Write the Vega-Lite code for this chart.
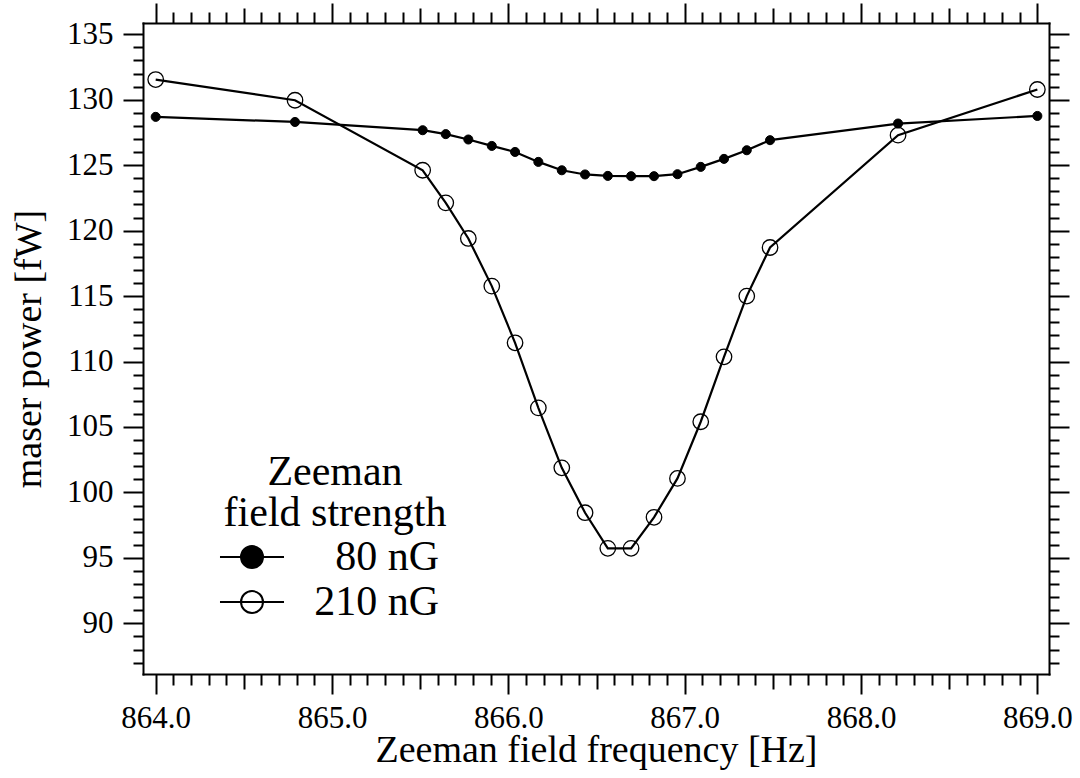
{
  "$schema": "https://vega.github.io/schema/vega-lite/v6.json",
  "width": 906,
  "height": 651,
  "autosize": {"type": "none"},
  "padding": {"left": 143, "top": 23, "right": 31, "bottom": 104},
  "background": "white",
  "config": {
    "view": {"stroke": null},
    "font": "Liberation Serif",
    "axis": {
      "grid": false,
      "domainColor": "black",
      "domainWidth": 2,
      "domainCap": "square",
      "tickColor": "black",
      "tickWidth": 2,
      "labelColor": "black",
      "titleColor": "black",
      "labelFont": "Liberation Serif",
      "titleFont": "Liberation Serif",
      "titleFontWeight": "normal",
      "labelFlush": false,
      "labelOverlap": false
    }
  },
  "data": {
    "values": [
      {"series": "80 nG", "freq": 864.0, "power": 128.69},
      {"series": "80 nG", "freq": 864.79, "power": 128.3},
      {"series": "80 nG", "freq": 865.514, "power": 127.67},
      {"series": "80 nG", "freq": 865.645, "power": 127.37},
      {"series": "80 nG", "freq": 865.773, "power": 126.96},
      {"series": "80 nG", "freq": 865.906, "power": 126.47},
      {"series": "80 nG", "freq": 866.038, "power": 126.01},
      {"series": "80 nG", "freq": 866.17, "power": 125.25},
      {"series": "80 nG", "freq": 866.303, "power": 124.61},
      {"series": "80 nG", "freq": 866.435, "power": 124.29},
      {"series": "80 nG", "freq": 866.564, "power": 124.18},
      {"series": "80 nG", "freq": 866.696, "power": 124.16},
      {"series": "80 nG", "freq": 866.826, "power": 124.16},
      {"series": "80 nG", "freq": 866.959, "power": 124.31},
      {"series": "80 nG", "freq": 867.091, "power": 124.87},
      {"series": "80 nG", "freq": 867.223, "power": 125.48},
      {"series": "80 nG", "freq": 867.352, "power": 126.14},
      {"series": "80 nG", "freq": 867.484, "power": 126.91},
      {"series": "80 nG", "freq": 868.21, "power": 128.18},
      {"series": "80 nG", "freq": 869.0, "power": 128.76},
      {"series": "210 nG", "freq": 864.0, "power": 131.54},
      {"series": "210 nG", "freq": 864.79, "power": 129.96},
      {"series": "210 nG", "freq": 865.514, "power": 124.61},
      {"series": "210 nG", "freq": 865.645, "power": 122.12},
      {"series": "210 nG", "freq": 865.773, "power": 119.4},
      {"series": "210 nG", "freq": 865.906, "power": 115.76},
      {"series": "210 nG", "freq": 866.038, "power": 111.43},
      {"series": "210 nG", "freq": 866.17, "power": 106.46},
      {"series": "210 nG", "freq": 866.303, "power": 101.88},
      {"series": "210 nG", "freq": 866.435, "power": 98.45},
      {"series": "210 nG", "freq": 866.564, "power": 95.73},
      {"series": "210 nG", "freq": 866.696, "power": 95.73},
      {"series": "210 nG", "freq": 866.826, "power": 98.1},
      {"series": "210 nG", "freq": 866.959, "power": 101.07},
      {"series": "210 nG", "freq": 867.091, "power": 105.4},
      {"series": "210 nG", "freq": 867.223, "power": 110.36},
      {"series": "210 nG", "freq": 867.352, "power": 115.0},
      {"series": "210 nG", "freq": 867.484, "power": 118.71},
      {"series": "210 nG", "freq": 868.21, "power": 127.29},
      {"series": "210 nG", "freq": 869.0, "power": 130.78}
    ]
  },
  "layer": [
    {
      "mark": {"type": "line", "color": "black", "strokeWidth": 2.2},
      "encoding": {
        "x": {
          "field": "freq", "type": "quantitative",
          "scale": {"domain": [863.928, 869.066], "nice": false, "zero": false},
          "axis": {
            "orient": "bottom",
            "values": [864, 865, 866, 867, 868, 869],
            "format": ".1f",
            "tickSize": 20,
            "labelFont": "Liberation Serif",
            "labelFontSize": 31,
            "labelPadding": 9,
            "title": "Zeeman field frequency [Hz]",
            "titleFont": "Liberation Serif",
            "titleFontSize": 38,
            "titlePadding": -2
          }
        },
        "y": {
          "field": "power", "type": "quantitative",
          "scale": {"domain": [86.13, 135.86], "nice": false, "zero": false},
          "axis": {
            "orient": "left",
            "values": [90, 95, 100, 105, 110, 115, 120, 125, 130, 135],
            "tickSize": 20,
            "labelFont": "Liberation Serif",
            "labelFontSize": 31,
            "labelPadding": 10,
            "title": "maser power [fW]",
            "titleFont": "Liberation Serif",
            "titleFontSize": 38,
            "titlePadding": 18
          }
        },
        "detail": {"field": "series", "type": "nominal"}
      }
    },
    {
      "transform": [{"filter": "datum.series === '80 nG'"}],
      "mark": {"type": "point", "shape": "circle", "size": 82, "stroke": "black", "strokeWidth": 1, "opacity": 1},
      "encoding": {
        "x": {
          "field": "freq", "type": "quantitative",
          "axis": {
            "orient": "bottom",
            "values": [864.1,864.2,864.3,864.4,864.5,864.6,864.7,864.8,864.9,865.1,865.2,865.3,865.4,865.5,865.6,865.7,865.8,865.9,866.1,866.2,866.3,866.4,866.5,866.6,866.7,866.8,866.9,867.1,867.2,867.3,867.4,867.5,867.6,867.7,867.8,867.9,868.1,868.2,868.3,868.4,868.5,868.6,868.7,868.8,868.9],
            "tickSize": {"condition": {"test": "abs(datum.value % 1 - 0.5) < 0.01", "value": 15}, "value": 11},
            "labels": false,
            "domain": false,
            "title": null
          }
        },
        "y": {
          "field": "power", "type": "quantitative",
          "axis": {
            "orient": "left",
            "values": [87,88,89,91,92,93,94,96,97,98,99,101,102,103,104,106,107,108,109,111,112,113,114,116,117,118,119,121,122,123,124,126,127,128,129,131,132,133,134],
            "tickSize": 10,
            "labels": false,
            "domain": false,
            "title": null
          }
        },
        "fill": {
          "field": "series", "type": "nominal",
          "scale": {"domain": ["80 nG", "210 nG"], "range": ["black", "transparent"]},
          "legend": {
            "title": ["Zeeman", "field strength"],
            "orient": "none",
            "legendX": 81,
            "legendY": 429,
            "padding": 0,
            "titleFont": "Liberation Serif",
            "titleFontSize": 42,
            "titleFontWeight": "normal",
            "titleColor": "black",
            "titleLineHeight": 41,
            "titleAnchor": "middle",
            "titleAlign": "center",
            "titleLimit": 0,
            "titlePadding": 1,
            "labelFont": "Liberation Serif",
            "labelFontSize": 42,
            "labelColor": "black",
            "labelAlign": "right",
            "labelLimit": 0,
            "labelOffset": 166,
            "rowPadding": 3,
            "symbolType": "M-2.91,0H2.91M1,0A1,1,0,1,1,-1,0A1,1,0,1,1,1,0Z",
            "symbolSize": 484,
            "symbolStrokeWidth": 2,
            "symbolStrokeColor": "black",
            "encode": {
              "symbols": {
                "update": {
                  "shape": {"value": "M-2.91,0H2.91M1,0A1,1,0,1,1,-1,0A1,1,0,1,1,1,0Z"},
                  "stroke": {"value": "black"},
                  "strokeWidth": {"value": 2},
                  "opacity": {"value": 1}
                }
              }
            }
          }
        }
      }
    },
    {
      "transform": [{"filter": "datum.series === '210 nG'"}],
      "mark": {"type": "point", "shape": "circle", "size": 240, "stroke": "black", "strokeWidth": 1.3, "opacity": 1},
      "encoding": {
        "x": {
          "field": "freq", "type": "quantitative",
          "axis": {
            "orient": "top",
            "values": [864, 865, 866, 867, 868, 869],
            "tickSize": 20,
            "labels": false,
            "title": null
          }
        },
        "y": {
          "field": "power", "type": "quantitative",
          "axis": {
            "orient": "right",
            "values": [90, 95, 100, 105, 110, 115, 120, 125, 130, 135],
            "tickSize": 20,
            "labels": false,
            "title": null
          }
        },
        "fill": {"field": "series", "type": "nominal"}
      }
    },
    {
      "mark": {"type": "point", "opacity": 0},
      "encoding": {
        "x": {
          "field": "freq", "type": "quantitative",
          "axis": {
            "orient": "top",
            "values": [864.1,864.2,864.3,864.4,864.5,864.6,864.7,864.8,864.9,865.1,865.2,865.3,865.4,865.5,865.6,865.7,865.8,865.9,866.1,866.2,866.3,866.4,866.5,866.6,866.7,866.8,866.9,867.1,867.2,867.3,867.4,867.5,867.6,867.7,867.8,867.9,868.1,868.2,868.3,868.4,868.5,868.6,868.7,868.8,868.9],
            "tickSize": {"condition": {"test": "abs(datum.value % 1 - 0.5) < 0.01", "value": 15}, "value": 11},
            "labels": false,
            "domain": false,
            "title": null
          }
        },
        "y": {
          "field": "power", "type": "quantitative",
          "axis": {
            "orient": "right",
            "values": [87,88,89,91,92,93,94,96,97,98,99,101,102,103,104,106,107,108,109,111,112,113,114,116,117,118,119,121,122,123,124,126,127,128,129,131,132,133,134],
            "tickSize": 10,
            "labels": false,
            "domain": false,
            "title": null
          }
        }
      }
    }
  ],
  "resolve": {"axis": {"x": "independent", "y": "independent"}}
}
